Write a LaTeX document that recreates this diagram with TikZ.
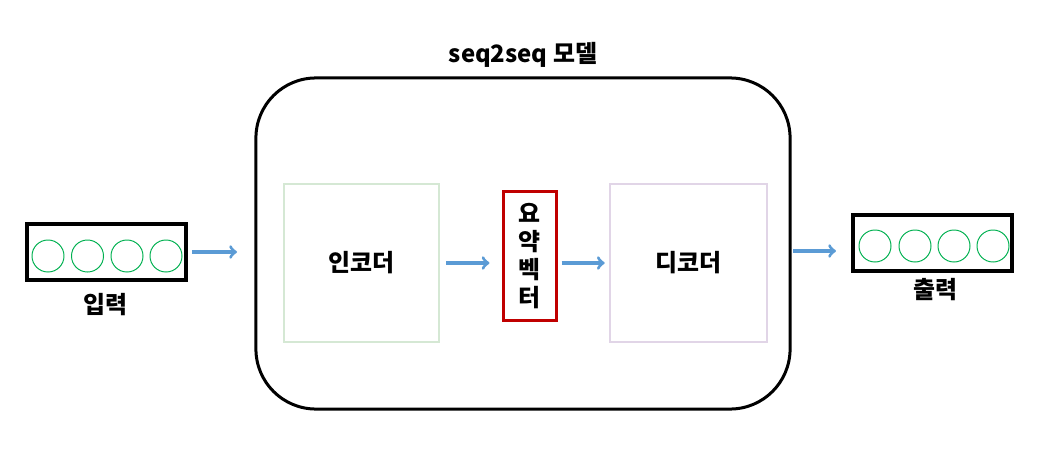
\documentclass[tikz,border=0pt]{standalone}
\usepackage{fontspec}
\newfontfamily\kr{Noto Sans CJK KR}
\definecolor{arrowblue}{RGB}{91,155,213}
\definecolor{encgreen}{RGB}{213,232,212}
\definecolor{decpurple}{RGB}{225,213,231}
\definecolor{vecred}{RGB}{192,0,0}
\definecolor{dotgreen}{RGB}{0,176,80}
\tikzset{
  seqbox/.style={draw=black, line width=0.1cm, minimum width=3.975cm, minimum height=1.4cm},
  token/.style={circle, draw=dotgreen, line width=0.7pt, minimum size=0.8cm, inner sep=0pt},
  label/.style={font=\kr\bfseries\fontsize{17}{20}\selectfont},
  flow/.style={draw=arrowblue, line width=2.3pt, ->}
}
\begin{document}
\begin{tikzpicture}[x=0.025cm, y=-0.025cm]
            \useasboundingbox (0,0) rectangle (1044,466);

            % model frame
            \node[draw, line width=0.075cm, rounded corners=1.5cm, minimum width=13.35cm, minimum height=8.275cm] (model) at (523,243.5) {};
            \node[label] (title) at (523,55) {seq2seq 모델};

            % encoder, vector, decoder
            \node[draw=encgreen, line width=0.065cm, minimum width=3.875cm, minimum height=3.95cm, label] (enc) at (361.5,263) {인코더};
            \node[draw=vecred, line width=0.075cm, minimum width=1.325cm, minimum height=3.2cm, align=center, inner sep=0pt, label] (vec) at (529.5,256) {요\\약\\벡\\터};
            \node[draw=decpurple, line width=0.065cm, minimum width=3.925cm, minimum height=3.95cm, label] (dec) at (688.5,263) {디코더};

            % input and output
            \node[seqbox] (inbox) at (106.5,252) {};
            \foreach \i/\x in {1/48,2/87.5,3/127,4/166}
                \node[token] (in\i) at (\x,256) {};
            \node[label] (inlabel) at (105,305) {입력};

            \node[seqbox] (outbox) at (932.5,243) {};
            \foreach \i/\x in {1/875,2/915,3/954,4/993}
                \node[token] (out\i) at (\x,246) {};
            \node[label] (outlabel) at (935,290) {출력};

            % arrows
            \coordinate (modelin) at (237,252);
            \coordinate (modelout) at (793,251);
            \draw[flow] ([xshift=0.1cm]inbox.east |- modelin) -- (modelin);
            \draw[flow] ([xshift=0.15cm]enc.east) -- ([xshift=-0.3cm]vec.west |- enc.east);
            \draw[flow] ([xshift=0.1cm]vec.east |- dec.west) -- ([xshift=-0.1cm]dec.west);
            \draw[flow] (modelout) -- ([xshift=-0.375cm]outbox.west |- modelout);

\end{tikzpicture}
\end{document}
